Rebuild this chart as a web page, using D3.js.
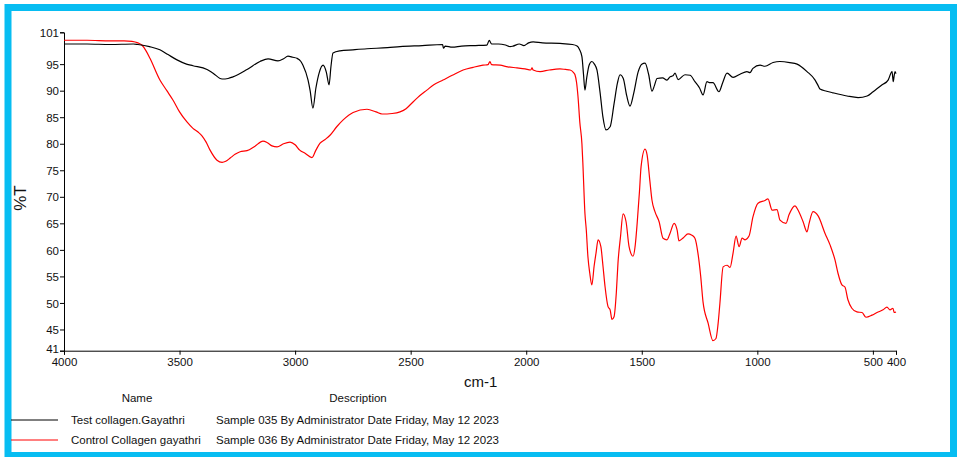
<!DOCTYPE html>
<html>
<head>
<meta charset="utf-8">
<script src="https://cdn.jsdelivr.net/npm/d3@7"></script>
<style>
  html, body { margin: 0; padding: 0; background: #fff; }
  svg { display: block; font-family: "Liberation Sans", Arial, sans-serif; }
</style>
</head>
<body>
<svg id="chart" width="958" height="457"></svg>
<script>
// FTIR spectra: wavenumber (cm-1) and transmittance (%T)
const testWavenumbers = [4000,3900,3800,3700,3680,3630,3585,3550,3511,3470,3442,3381,3355,3316,3290,3269,3208,3152,3117,3074,3050,3031,3010,2992,2975,2966,2944,2935,2923,2910,2895,2879,2865,2853,2845,2836,2806,2750,2689,2600,2546,2450,2362,2358,2350,2320,2280,2220,2170,2160,2150,2120,2090,2070,2057,2030,2010,1990,1970,1930,1854,1800,1780,1770,1759,1752,1746,1738,1728,1716,1705,1694,1680,1668,1655,1637,1620,1605,1594,1580,1565,1551,1535,1516,1500,1486,1470,1456,1445,1434,1410,1391,1378,1365,1356,1343,1313,1291,1270,1250,1235,1218,1205,1192,1166,1150,1131,1105,1075,1045,1032,1019,988,967,932,902,860,828,785,750,735,729,700,673,612,564,525,499,460,434,417,412,408,404,400];
const testTransmittance = [98.8,98.8,98.7,98.8,98.7,98.3,97.7,96.8,95.8,95.0,94.7,94.0,93.3,92.2,92.3,92.6,94.0,95.5,96.0,95.6,96.0,96.5,96.3,96.1,95.5,94.8,92.0,90.0,86.7,90.5,93.5,94.8,93.5,91.1,94.5,97.1,97.5,97.7,97.9,98.1,98.3,98.5,98.7,98.0,98.4,98.2,98.4,98.5,98.6,99.5,98.8,98.8,98.6,98.3,98.4,98.8,98.5,99.0,99.2,99.0,98.9,98.7,98.4,97.8,96.4,93.0,90.1,92.5,94.8,95.5,95.0,93.9,89.5,85.0,82.6,83.2,87.5,91.5,93.0,92.3,89.0,87.1,89.5,93.5,95.0,95.2,93.0,89.9,91.0,92.3,92.4,92.0,92.6,92.8,93.3,92.1,93.0,92.9,91.7,90.5,89.2,91.7,91.5,91.5,89.8,91.5,93.3,92.5,93.1,93.6,93.4,94.2,94.8,94.6,95.3,95.5,95.3,95.0,93.6,92.0,90.8,90.3,89.9,89.6,89.0,88.7,89.0,89.8,91.1,92.0,93.6,91.7,92.8,93.6,93.2];

const controlWavenumbers = [4000,3900,3800,3740,3706,3680,3663,3645,3628,3585,3555,3528,3500,3468,3442,3420,3403,3385,3368,3338,3316,3300,3281,3260,3238,3208,3175,3139,3120,3100,3078,3050,3022,3000,2980,2957,2927,2910,2892,2870,2849,2820,2792,2749,2689,2650,2624,2580,2546,2520,2503,2470,2430,2400,2360,2320,2273,2230,2187,2165,2157,2150,2113,2080,2040,2005,1980,1975,1970,1940,1900,1854,1830,1810,1795,1789,1782,1776,1768,1759,1755,1746,1740,1733,1725,1716,1706,1698,1689,1677,1668,1659,1646,1637,1629,1620,1610,1603,1592,1581,1568,1555,1538,1528,1520,1510,1503,1486,1477,1465,1456,1443,1425,1408,1391,1378,1360,1347,1339,1320,1300,1285,1270,1257,1245,1235,1213,1192,1179,1170,1162,1148,1131,1118,1105,1092,1079,1066,1053,1036,1019,997,967,954,936,915,902,876,863,837,824,802,785,776,759,737,707,685,664,651,634,621,608,591,569,547,530,504,482,456,439,426,413,408,400];
const controlTransmittance = [99.5,99.5,99.4,99.4,99.3,99.0,98.6,97.5,96.1,92.0,90.0,88.2,86.0,84.1,82.9,82.2,81.5,80.3,78.8,76.9,76.5,76.7,77.3,78.0,78.5,78.7,79.5,80.5,80.2,79.6,79.4,80.0,80.3,79.8,78.8,78.2,77.4,78.8,80.1,80.8,81.6,83.2,84.5,85.9,86.5,86.0,85.6,85.7,86.0,86.6,87.3,88.7,90.1,91.1,92.0,92.9,93.9,94.4,94.8,94.9,95.5,94.9,94.8,94.5,94.3,94.1,93.9,94.3,93.9,93.6,93.9,94.1,94.0,93.9,93.4,93.0,91.5,88.9,84.0,80.0,76.4,66.9,63.7,58.7,55.6,53.4,57.0,59.4,61.9,60.6,57.0,53.1,49.3,48.7,46.9,47.4,52.0,57.5,62.5,66.8,65.3,60.6,58.8,61.0,65.0,71.0,75.7,79.0,77.9,73.0,69.4,67.2,65.3,62.2,61.9,63.1,65.0,63.7,61.7,62.3,63.0,62.8,62.2,59.4,55.0,50.2,46.2,42.9,43.3,46.0,49.9,56.8,57.1,56.7,59.4,62.6,60.6,62.2,61.9,62.6,66.2,68.8,69.3,69.6,67.5,67.6,65.6,65.0,66.6,68.3,67.5,65.3,63.4,65.0,67.2,66.4,63.1,60.9,58.1,55.6,53.4,53.0,50.6,49.0,48.3,48.2,47.3,47.7,48.2,48.7,49.2,48.7,49.0,48.2,48.3];

const xTicks = [4000,3500,3000,2500,2000,1500,1000,500,400];
const yTicks = [41,45,50,55,60,65,70,75,80,85,90,95,101];

const seriesNames = ["Test collagen.Gayathri", "Control Collagen gayathri"];
const seriesDescriptions = ["Sample 035 By Administrator Date Friday, May 12 2023",
                            "Sample 036 By Administrator Date Friday, May 12 2023"];
const seriesColors = ["#000000", "#ff0000"];

const svg = d3.select("#chart");

// outer frame
svg.append("rect")
  .attr("x", 8).attr("y", 7.5)
  .attr("width", 945.5).attr("height", 448)
  .attr("fill", "none")
  .attr("stroke", "#07bdf2")
  .attr("stroke-width", 7);

const x = d3.scaleLinear().domain([4000, 400]).range([64, 896]);
const y = d3.scaleLinear().domain([41, 101]).range([350.7, 32.3]);

const xAxis = d3.axisBottom(x).tickValues(xTicks).tickSize(4).tickPadding(3).tickFormat(d3.format("d"));
const yAxis = d3.axisLeft(y).tickValues(yTicks).tickSize(4).tickPadding(1).tickFormat(d3.format("d"));

const gx = svg.append("g").attr("transform", "translate(0,350.7)").call(xAxis);
const gy = svg.append("g").attr("transform", "translate(64,0)").call(yAxis);
[gx, gy].forEach(g => {
  g.select(".domain").attr("stroke", "#000");
  g.selectAll(".tick line").attr("stroke", "#000");
  g.selectAll(".tick text")
    .attr("fill", "#111")
    .style("font-family", "'Liberation Sans', Arial, sans-serif")
    .style("font-size", "11.5px");
});
gy.selectAll(".tick text").attr("dy", "0.36em");
// lowest y label sits a little higher, clear of the x labels
gy.selectAll(".tick text").filter(d => d === 41).attr("dy", "0.12em");

// spectra
const line = d3.line()
  .x(d => x(d[0]))
  .y(d => y(d[1]))
  .curve(d3.curveMonotoneX);

const series = [
  d3.zip(testWavenumbers, testTransmittance),
  d3.zip(controlWavenumbers, controlTransmittance)
];

// control drawn first so the test trace sits on top where they overlap
[1, 0].forEach(i => {
  svg.append("path")
    .datum(series[i])
    .attr("fill", "none")
    .attr("stroke", seriesColors[i])
    .attr("stroke-width", 1.2)
    .attr("stroke-linejoin", "round")
    .attr("d", line);
});

// axis titles
svg.append("text")
  .attr("transform", "translate(25.5,198) rotate(-90)")
  .attr("text-anchor", "middle")
  .style("font-size", "17px")
  .attr("fill", "#111")
  .text("%T");

svg.append("text")
  .attr("x", 464).attr("y", 387)
  .style("font-size", "15px")
  .attr("fill", "#111")
  .text("cm-1");

// legend table
svg.append("text").attr("x", 137).attr("y", 402)
  .attr("text-anchor", "middle").style("font-size", "11.5px").attr("fill", "#111").text("Name");
svg.append("text").attr("x", 358).attr("y", 402)
  .attr("text-anchor", "middle").style("font-size", "11.5px").attr("fill", "#111").text("Description");

seriesNames.forEach((name, i) => {
  const rowY = 420 + i * 20;
  svg.append("line")
    .attr("x1", 11).attr("x2", 58)
    .attr("y1", rowY).attr("y2", rowY)
    .attr("stroke", seriesColors[i]).attr("stroke-width", 1);
  svg.append("text").attr("x", 71).attr("y", rowY + 3.7)
    .style("font-size", "11.5px").attr("fill", "#111").text(name);
  svg.append("text").attr("x", 216).attr("y", rowY + 3.7)
    .style("font-size", "11.5px").attr("fill", "#111").text(seriesDescriptions[i]);
});
</script>
</body>
</html>
